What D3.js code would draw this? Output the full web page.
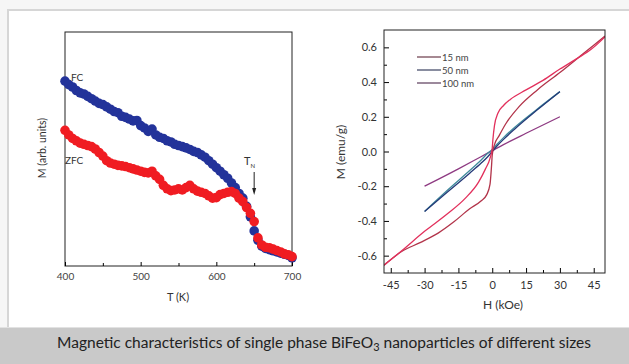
<!DOCTYPE html>
<html>
<head>
<meta charset="utf-8">
<script src="https://cdn.jsdelivr.net/npm/d3@7"></script>
<style>
  html, body { margin: 0; padding: 0; background: #f6f6f6; }
  svg { display: block; font-family: Lato, "Open Sans", sans-serif; }
</style>
</head>
<body>
<svg id="fig" width="629" height="364"></svg>
<script>
// ---- Left panel: FC / ZFC magnetisation vs temperature ----
const temps = d3.range(400, 701, 5);
const fcValues = [
  0.790, 0.775, 0.765, 0.750, 0.740, 0.735, 0.725, 0.715, 0.705, 0.695,
  0.690, 0.680, 0.670, 0.660, 0.655, 0.640, 0.635, 0.628, 0.620, 0.622,
  0.600, 0.590, 0.575, 0.585, 0.560, 0.550, 0.545, 0.535, 0.530, 0.520,
  0.515, 0.510, 0.505, 0.498, 0.490, 0.485, 0.475, 0.465, 0.450, 0.435,
  0.420, 0.405, 0.390, 0.375, 0.355, 0.335, 0.310, 0.290, 0.255, 0.210,
  0.150, 0.110, 0.085, 0.075, 0.070, 0.065, 0.060, 0.055, 0.050, 0.045,
  0.035
];
const zfcValues = [
  0.580, 0.560, 0.545, 0.535, 0.525, 0.520, 0.515, 0.510, 0.500, 0.485,
  0.470, 0.450, 0.440, 0.435, 0.430, 0.428, 0.425, 0.420, 0.415, 0.410,
  0.405, 0.400, 0.398, 0.405, 0.385, 0.370, 0.345, 0.330, 0.322, 0.325,
  0.330, 0.325, 0.335, 0.345, 0.330, 0.320, 0.315, 0.310, 0.300, 0.290,
  0.292, 0.305, 0.310, 0.315, 0.318, 0.310, 0.290, 0.275, 0.250, 0.225,
  0.190, 0.120, 0.090, 0.080, 0.078, 0.072, 0.066, 0.060, 0.052, 0.048,
  0.040
];
const tempTicks = [400, 500, 600, 700];
const tempMinorTicks = [450, 550, 650];

// ---- Right panel: M–H curves for three particle sizes ----
// 15 nm loop, descending branch (listed in increasing field)
const h15Desc = [-48, -40, -30, -20, -12, -6, -3, -1, 0, 0.3, 1, 2.5, 5, 8, 15, 22.5, 30, 37.5, 44, 50];
const m15Desc = [-0.655, -0.570, -0.460, -0.360, -0.270, -0.175, -0.100, -0.040, 0.020, 0.070, 0.150, 0.220, 0.265, 0.300, 0.355, 0.410, 0.475, 0.535, 0.590, 0.660];
// 15 nm loop, ascending branch
const h15Asc = [-48, -40, -32, -24, -17, -10, -5, -2.5, -1, -0.3, 0, 1, 3, 6, 12, 20, 30, 40, 50];
const m15Asc = [-0.655, -0.575, -0.525, -0.470, -0.405, -0.330, -0.285, -0.250, -0.190, -0.080, -0.020, 0.040, 0.090, 0.160, 0.260, 0.355, 0.455, 0.560, 0.665];
// 50 nm, two nearly overlapping branches
const h50 = [-30, -20, -10, -5, -2, 0, 2, 5, 10, 20, 30];
const m50a = [-0.345, -0.235, -0.125, -0.068, -0.030, 0.000, 0.030, 0.070, 0.130, 0.240, 0.345];
const m50b = [-0.345, -0.225, -0.110, -0.050, -0.010, 0.012, 0.040, 0.080, 0.140, 0.245, 0.345];
// 100 nm
const h100 = [-30, -15, -5, 0, 5, 15, 30];
const m100 = [-0.200, -0.100, -0.030, 0.005, 0.040, 0.105, 0.200];

const fieldTicks = [-45, -30, -15, 0, 15, 30, 45];
const fieldMinorTicks = [-37.5, -22.5, -7.5, 7.5, 22.5, 37.5];
const mTicks = [-0.6, -0.4, -0.2, 0.0, 0.2, 0.4, 0.6];
const mMinorTicks = [-0.5, -0.3, -0.1, 0.1, 0.3, 0.5];
const legendLabels = ["15 nm", "50 nm", "100 nm"];

const caption = "Magnetic characteristics of single phase BiFeO";

const svg = d3.select("#fig");

// page frame and caption strip
svg.append("rect").attr("x", 8).attr("y", 10).attr("width", 640).attr("height", 330)
  .attr("fill", "#fff").attr("stroke", "#d6d6d6").attr("stroke-width", 2);
svg.append("rect").attr("x", 0).attr("y", 327).attr("width", 629).attr("height", 37)
  .attr("fill", "#c9c9c9");
svg.append("line").attr("x1", 0).attr("x2", 629).attr("y1", 327.5).attr("y2", 327.5)
  .attr("stroke", "#e2e2e2");
const cap = svg.append("text").attr("x", 324).attr("y", 348).attr("text-anchor", "middle")
  .attr("font-size", 15.5).attr("fill", "#222").attr("font-family", "Lato, sans-serif");
cap.append("tspan").text(caption);
cap.append("tspan").attr("font-size", 11).attr("dy", 3).text("3");
cap.append("tspan").attr("dy", -3).text(" nanoparticles of different sizes");

// hyphen-style minus for tick labels
const fmtSigned = f => v => f(v).replace("\u2212", "-");

// ---------- left panel ----------
const L = { x0: 65, x1: 292, y0: 32, y1: 266 };
const xT = d3.scaleLinear().domain([400, 700]).range([L.x0, L.x1]);
const yM = d3.scaleLinear().domain([0, 1]).range([L.y1, L.y0]);

const gl = svg.append("g");
gl.append("rect").attr("x", L.x0).attr("y", L.y0).attr("width", L.x1 - L.x0).attr("height", L.y1 - L.y0)
  .attr("fill", "none").attr("stroke", "#222").attr("stroke-width", 1);

const axT = gl.append("g").attr("transform", `translate(0,${L.y1})`)
  .call(d3.axisBottom(xT).tickValues(tempTicks).tickSize(-4).tickPadding(7).tickFormat(d3.format("d")));
axT.select(".domain").remove();
axT.selectAll("text").attr("font-size", 10).attr("fill", "#444").attr("font-family", "Lato, sans-serif");
gl.append("g").attr("transform", `translate(0,${L.y1})`)
  .call(d3.axisBottom(xT).tickValues(tempMinorTicks).tickSize(-3).tickFormat(""))
  .select(".domain").remove();

const fc = temps.map((t, i) => [t, fcValues[i]]);
const zfc = temps.map((t, i) => [t, zfcValues[i]]);
gl.append("g").selectAll("circle").data(fc).join("circle")
  .attr("cx", d => xT(d[0])).attr("cy", d => yM(d[1])).attr("r", 4.8).attr("fill", "#23339a");
gl.append("g").selectAll("circle").data(zfc).join("circle")
  .attr("cx", d => xT(d[0])).attr("cy", d => yM(d[1])).attr("r", 4.8).attr("fill", "#f01c22");

gl.append("text").attr("x", 71).attr("y", 81).attr("font-size", 10).attr("fill", "#333").text("FC");
gl.append("text").attr("x", 65).attr("y", 164).attr("font-size", 10).attr("fill", "#333").text("ZFC");
const tn = gl.append("text").attr("x", 244).attr("y", 165).attr("font-size", 11).attr("fill", "#333");
tn.append("tspan").text("T");
tn.append("tspan").attr("font-size", 6).attr("dy", 3).text("N");
gl.append("line").attr("x1", xT(650)).attr("x2", xT(650)).attr("y1", 172).attr("y2", 192)
  .attr("stroke", "#222").attr("stroke-width", 1);
gl.append("path").attr("d", `M${xT(650) - 2},188 L${xT(650) + 2},188 L${xT(650)},195 Z`).attr("fill", "#222");

gl.append("text").attr("x", 178).attr("y", 301).attr("text-anchor", "middle")
  .attr("font-size", 11).attr("fill", "#333").text("T (K)");
gl.append("text").attr("transform", "translate(46,148) rotate(-90)").attr("text-anchor", "middle")
  .attr("font-size", 10.5).attr("fill", "#333").text("M (arb. units)");

// ---------- right panel ----------
const R = { x0: 384, x1: 605, y0: 30, y1: 273 };
const xH = d3.scaleLinear().domain([-48, 50]).range([R.x0, R.x1]);
const yE = d3.scaleLinear().domain([-0.7, 0.7]).range([R.y1, R.y0]);

const gr = svg.append("g");
const clip = gr.append("clipPath").attr("id", "mhclip");
clip.append("rect").attr("x", R.x0).attr("y", R.y0).attr("width", R.x1 - R.x0).attr("height", R.y1 - R.y0);

const axH = gr.append("g").attr("transform", `translate(0,${R.y1})`)
  .call(d3.axisBottom(xH).tickValues(fieldTicks).tickSize(-5).tickPadding(8).tickFormat(fmtSigned(d3.format("d"))));
axH.select(".domain").remove();
axH.selectAll("text").attr("font-size", 11).attr("fill", "#333").attr("font-family", "Lato, sans-serif");
gr.append("g").attr("transform", `translate(0,${R.y1})`)
  .call(d3.axisBottom(xH).tickValues(fieldMinorTicks).tickSize(-3).tickFormat(""))
  .select(".domain").remove();

const axE = gr.append("g").attr("transform", `translate(${R.x0},0)`)
  .call(d3.axisLeft(yE).tickValues(mTicks).tickSize(-5).tickPadding(7).tickFormat(fmtSigned(d3.format(".1f"))));
axE.select(".domain").remove();
axE.selectAll("text").attr("font-size", 11).attr("fill", "#333").attr("font-family", "Lato, sans-serif");
gr.append("g").attr("transform", `translate(${R.x0},0)`)
  .call(d3.axisLeft(yE).tickValues(mMinorTicks).tickSize(-3).tickFormat(""))
  .select(".domain").remove();

const line = d3.line().x(d => xH(d[0])).y(d => yE(d[1])).curve(d3.curveMonotoneX);
const zip = (hs, ms) => hs.map((h, i) => [h, ms[i]]);
const curves = [
  { pts: zip(h100, m100), color: "#8e3a82" },
  { pts: zip(h50, m50b), color: "#3f8a9c" },
  { pts: zip(h50, m50a), color: "#243a78" },
  { pts: zip(h15Asc, m15Asc), color: "#b2344a" },
  { pts: zip(h15Desc, m15Desc), color: "#e2305c" }
];
gr.append("g").attr("clip-path", "url(#mhclip)").selectAll("path").data(curves).join("path")
  .attr("d", d => line(d.pts)).attr("fill", "none").attr("stroke", d => d.color).attr("stroke-width", 1.3);

gr.append("rect").attr("x", R.x0).attr("y", R.y0).attr("width", R.x1 - R.x0).attr("height", R.y1 - R.y0)
  .attr("fill", "none").attr("stroke", "#222").attr("stroke-width", 1);

const legendColors = ["#6a3a48", "#3a4060", "#5a3a5a"];
const lg = gr.append("g");
legendLabels.forEach((lab, i) => {
  const y = 57 + i * 13;
  lg.append("line").attr("x1", 417).attr("x2", 441).attr("y1", y).attr("y2", y)
    .attr("stroke", legendColors[i]).attr("stroke-width", 1.2);
  lg.append("text").attr("x", 442).attr("y", y + 3.5).attr("font-size", 9.5).attr("fill", "#444").text(lab);
});

gr.append("text").attr("x", 503).attr("y", 309).attr("text-anchor", "middle")
  .attr("font-size", 12).attr("fill", "#333").text("H (kOe)");
gr.append("text").attr("transform", "translate(345,152) rotate(-90)").attr("text-anchor", "middle")
  .attr("font-size", 12).attr("fill", "#333").text("M (emu/g)");
</script>
</body>
</html>
